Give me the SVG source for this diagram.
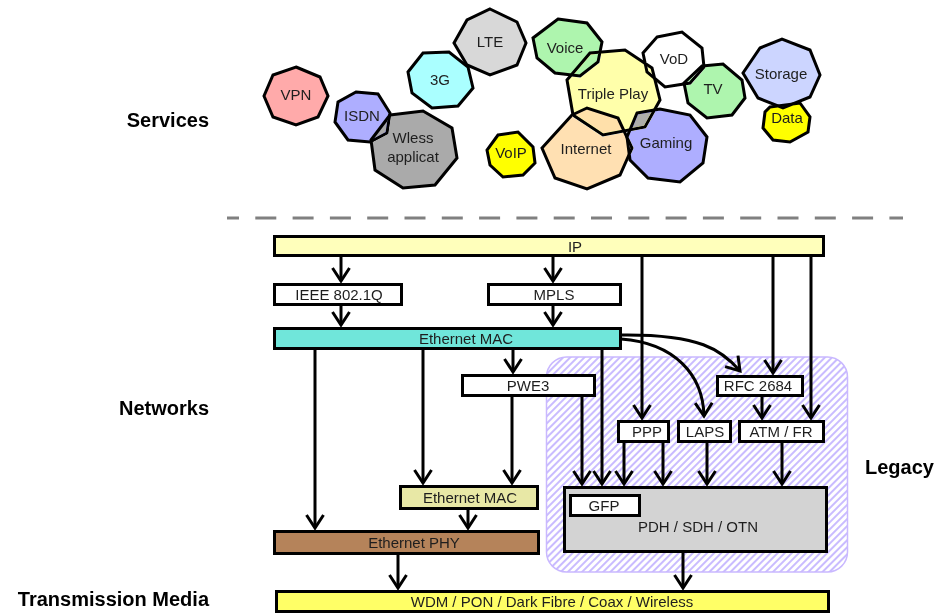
<svg xmlns="http://www.w3.org/2000/svg" width="937" height="615" viewBox="0 0 937 615">
<style>
text{font-family:"Liberation Sans",Arial,sans-serif;fill:#1e1e1e}
.t{font-size:15px;text-anchor:middle}
.lbl{font-size:20px;font-weight:bold;fill:#000}
.svc polygon{stroke:#000;stroke-width:3;stroke-linejoin:miter}
.svc{mix-blend-mode:darken}
.box{stroke:#000;stroke-width:3}
.c{fill:none;stroke:#000;stroke-width:3;marker-end:url(#ah)}
</style>
<defs>
<marker id="ah" markerUnits="userSpaceOnUse" markerWidth="30" markerHeight="30" viewBox="-15 -15 30 30" refX="0" refY="0" orient="auto" overflow="visible">
<path d="M-13,-8.5 L0,0 L-13,8.5" fill="none" stroke="#000" stroke-width="3"/>
</marker>
<pattern id="hatch" patternUnits="userSpaceOnUse" width="5" height="5" patternTransform="rotate(45)">
<line x1="1" y1="0" x2="1" y2="5" stroke="#a58eff" stroke-width="1.2"/>
</pattern>
</defs>
<rect width="937" height="615" fill="#fff"/>

<g id="labels">
<text class="lbl" x="209" y="127" text-anchor="end">Services</text>
<text class="lbl" x="209" y="415" text-anchor="end">Networks</text>
<text class="lbl" x="209" y="606" text-anchor="end">Transmission Media</text>
<text class="lbl" x="865" y="474">Legacy</text>
</g>

<line id="divider" x1="227" y1="218" x2="903" y2="218" stroke="#808080" stroke-width="3" stroke-dasharray="21 16.3" stroke-dashoffset="9"/>

<g id="services">
<g id="vpn" class="svc"><polygon points="296,67 320,77 328,96 318,117 296,125 273,117 264,96 273,75" fill="#ffaaaa"/><text class="t" x="296" y="100">VPN</text></g>
<g id="isdn" class="svc"><polygon points="356,92 378,94 390,113 387,133 370,142 348,140 335,122 338,102" fill="#aeaeff"/><text class="t" x="362" y="121">ISDN</text></g>
<g id="wless" class="svc"><polygon points="390,115 423,111 452,128 457,158 435,185 403,188 375,170 371,140" fill="#aaaaaa"/><text class="t" x="413" y="143">Wless</text><text class="t" x="413" y="162">applicat</text></g>
<g id="g3" class="svc"><polygon points="423,53 449,52 468,67 473,88 458,106 432,108 412,93 408,72" fill="#aaffff"/><text class="t" x="440" y="85">3G</text></g>
<g id="lte" class="svc"><polygon points="490,9 517,22 526,43 517,65 490,75 467,65 454,43 467,20" fill="#d8d8d8"/><text class="t" x="490" y="47">LTE</text></g>
<g id="voice" class="svc"><polygon points="558,19 587,23 602,42 598,62 580,76 555,73 537,58 533,38" fill="#aef5ae"/><text class="t" x="565" y="53">Voice</text></g>
<g id="triple" class="svc"><polygon points="590,53 625,50 652,68 660,100 645,127 603,135 573,115 567,80" fill="#ffffaa"/><text class="t" x="613" y="99">Triple Play</text></g>
<g id="vod" class="svc"><polygon points="657,37 682,32 702,48 704,67 690,83 665,87 647,72 643,53" fill="#ffffff"/><text class="t" x="674" y="64">VoD</text></g>
<g id="tv" class="svc"><polygon points="702,66 723,64 742,80 745,98 732,115 707,118 688,103 684,83" fill="#aef5ae"/><text class="t" x="713" y="94">TV</text></g>
<g id="storage" class="svc"><polygon points="760,48 782,39 810,50 820,75 810,97 783,108 758,98 743,73" fill="#ccd5ff"/><text class="t" x="781" y="78.5">Storage</text></g>
<g id="data" class="svc"><polygon points="770,107 800,103 810,117 808,132 790,142 773,140 763,128 765,112" fill="#ffff00"/><text class="t" x="787" y="123">Data</text></g>
<g id="voip" class="svc"><polygon points="498,135 518,132 533,147 535,163 523,175 503,177 490,165 487,150" fill="#ffff00"/><text class="t" x="511" y="157.5">VoIP</text></g>
<g id="internet" class="svc"><polygon points="572,115 587,108 618,118 632,148 620,175 587,189 555,178 542,148" fill="#ffe0b2"/><text class="t" x="586" y="154">Internet</text></g>
<g id="gaming" class="svc"><polygon points="637,113 660,109 690,115 707,137 703,163 680,182 648,178 630,160 627,137" fill="#aeaeff"/><text class="t" x="666" y="148">Gaming</text></g>
</g>

<g id="legacy">
<rect x="546.5" y="357" width="301" height="215" rx="20" fill="url(#hatch)" stroke="#c9b8ff" stroke-width="1.5"/>
</g>

<g id="connectors">
<line class="c" x1="341" y1="257" x2="341" y2="281"/>
<line class="c" x1="553" y1="257" x2="553" y2="281"/>
<line class="c" x1="341" y1="305" x2="341" y2="325"/>
<line class="c" x1="553" y1="305" x2="553" y2="325"/>
<line class="c" x1="642" y1="257" x2="642" y2="418"/>
<line class="c" x1="773" y1="257" x2="773" y2="373"/>
<line class="c" x1="811" y1="257" x2="811" y2="418"/>
<line class="c" x1="315" y1="349" x2="315" y2="528"/>
<line class="c" x1="423" y1="349" x2="423" y2="483"/>
<line class="c" x1="513" y1="349" x2="513" y2="372"/>
<line class="c" x1="602" y1="349" x2="602" y2="484"/>
<line class="c" x1="512" y1="396" x2="512" y2="483"/>
<line class="c" x1="582" y1="394" x2="582" y2="484"/>
<line class="c" x1="624" y1="442" x2="624" y2="484"/>
<line class="c" x1="663" y1="442" x2="663" y2="484"/>
<line class="c" x1="707" y1="442" x2="707" y2="484"/>
<line class="c" x1="782" y1="442" x2="782" y2="484"/>
<line class="c" x1="762" y1="396" x2="762" y2="418"/>
<path class="c" d="M621,335 C700,334 722,350 740,371"/>
<path class="c" d="M621,339 C675,343 703,375 704,416"/>
<line class="c" x1="468" y1="509" x2="468" y2="528"/>
<line class="c" x1="398" y1="554" x2="398" y2="588"/>
<line class="c" x1="683" y1="552" x2="683" y2="588"/>
</g>

<g id="ip"><rect class="box" x="274.5" y="236.5" width="549" height="19" fill="#ffffbb"/><text class="t" x="575" y="252">IP</text></g>
<g id="ieee"><rect class="box" x="274.5" y="284.5" width="127" height="20" fill="#fff"/><text class="t" x="339" y="300">IEEE 802.1Q</text></g>
<g id="mpls"><rect class="box" x="488.5" y="284.5" width="132" height="20" fill="#fff"/><text class="t" x="554" y="300">MPLS</text></g>
<g id="ethmac"><rect class="box" x="274.5" y="328.5" width="346" height="20" fill="#70e6da"/><text class="t" x="466" y="344">Ethernet MAC</text></g>
<g id="pwe3"><rect class="box" x="462.5" y="375.5" width="132" height="20" fill="#fff"/><text class="t" x="528" y="391">PWE3</text></g>
<g id="rfc2684"><rect class="box" x="717.5" y="376.5" width="85" height="19" fill="#fff"/><text class="t" x="758" y="391">RFC 2684</text></g>
<g id="ppp"><rect class="box" x="618.5" y="421.5" width="50" height="20" fill="#fff"/><text class="t" x="647" y="437">PPP</text></g>
<g id="laps"><rect class="box" x="678.5" y="421.5" width="52" height="20" fill="#fff"/><text class="t" x="705" y="437">LAPS</text></g>
<g id="atmfr"><rect class="box" x="739.5" y="421.5" width="84" height="20" fill="#fff"/><text class="t" x="781" y="437">ATM / FR</text></g>
<g id="pdh"><rect class="box" x="564.5" y="487.5" width="262" height="64" fill="#d3d3d3"/><text class="t" x="698" y="532">PDH / SDH / OTN</text></g>
<g id="gfp"><rect class="box" x="570.5" y="495.5" width="69" height="20" fill="#fff"/><text class="t" x="604" y="511">GFP</text></g>
<g id="ethmac2"><rect class="box" x="400.5" y="486.5" width="137" height="22" fill="#e8e8a6"/><text class="t" x="470" y="503">Ethernet MAC</text></g>
<g id="ethphy"><rect class="box" x="274.5" y="531.5" width="264" height="22" fill="#b5835a"/><text class="t" x="414" y="548">Ethernet PHY</text></g>
<g id="wdm"><rect class="box" x="276.5" y="591.5" width="552" height="20" fill="#ffff66"/><text class="t" x="552" y="607">WDM / PON / Dark Fibre / Coax / Wireless</text></g>
</svg>
